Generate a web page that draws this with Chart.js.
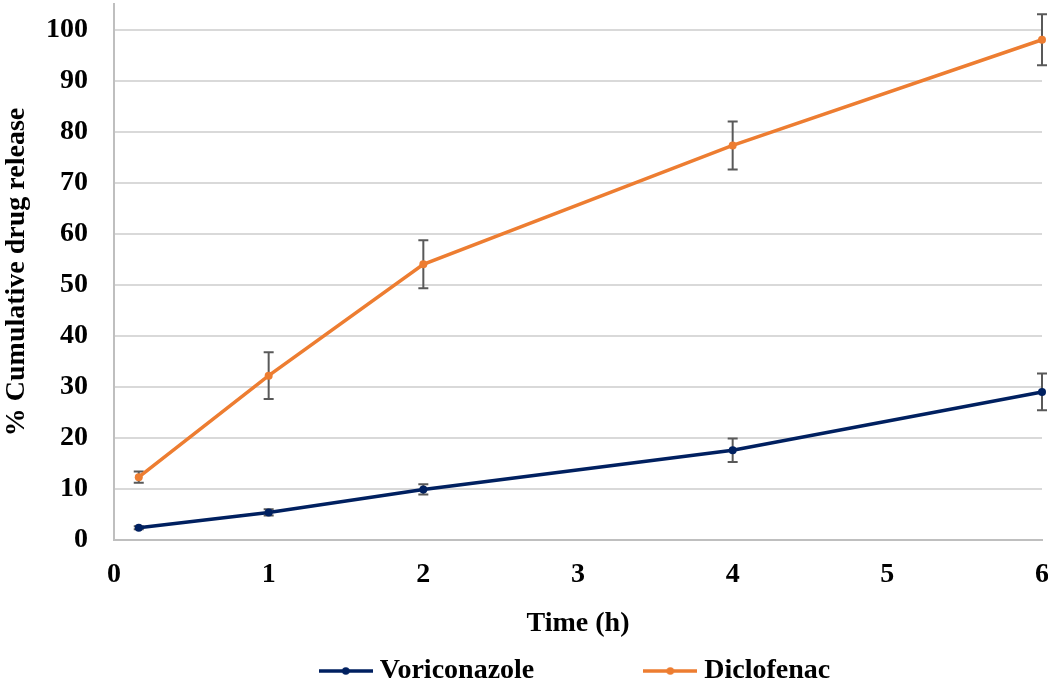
<!DOCTYPE html>
<html>
<head>
<meta charset="utf-8">
<script src="https://cdn.jsdelivr.net/npm/chart.js@4"></script>
<style>
  html, body { margin: 0; padding: 0; background: #ffffff; }
  #wrap { width: 1048px; height: 686px; position: relative; }
</style>
</head>
<body>
<div id="wrap"><canvas id="c"></canvas></div>
<script>
// ---- data ----
const times = [0.16, 1, 2, 4, 6];
const voriconazole = [2.4, 5.4, 9.9, 17.6, 29.0];
const voriconazoleErr = [0.3, 0.6, 1.0, 2.3, 3.6];
const diclofenac = [12.3, 32.2, 54.0, 77.3, 98.0];
const diclofenacErr = [1.1, 4.6, 4.7, 4.7, 5.0];
const seriesNames = ['Voriconazole', 'Diclofenac'];
const yTicks = [0, 10, 20, 30, 40, 50, 60, 70, 80, 90, 100];
const xTicks = [0, 1, 2, 3, 4, 5, 6];

const NAVY = '#002060';
const ORANGE = '#ED7D31';
const FONT = '"Liberation Serif", "Times New Roman", serif';

function toPoints(xs, ys) { return xs.map((x, i) => ({ x: x, y: ys[i] })); }

function legendIcon(color) {
  const cv = document.createElement('canvas');
  cv.width = 54; cv.height = 12;
  const g = cv.getContext('2d');
  g.strokeStyle = color; g.lineWidth = 3.5;
  g.beginPath(); g.moveTo(0, 6); g.lineTo(54, 6); g.stroke();
  g.fillStyle = color;
  g.beginPath(); g.arc(27, 6, 3.8, 0, Math.PI * 2); g.fill();
  return cv;
}

const errorBars = {
  id: 'errorBars',
  beforeDatasetsDraw(chart) {
    const ctx = chart.ctx;
    const ys = chart.scales.y;
    ctx.save();
    ctx.strokeStyle = '#595959';
    ctx.lineWidth = 2;
    chart.data.datasets.forEach((ds, di) => {
      const meta = chart.getDatasetMeta(di);
      if (!ds.errors) return;
      meta.data.forEach((pt, i) => {
        const v = ds.data[i].y, e = ds.errors[i];
        const top = ys.getPixelForValue(v + e);
        const bot = ys.getPixelForValue(v - e);
        const x = pt.x, cap = 5;
        ctx.beginPath();
        ctx.moveTo(x, top); ctx.lineTo(x, bot);
        ctx.moveTo(x - cap, top); ctx.lineTo(x + cap, top);
        ctx.moveTo(x - cap, bot); ctx.lineTo(x + cap, bot);
        ctx.stroke();
      });
    });
    ctx.restore();
  }
};

const trail = '\u00a0'.repeat(15);

new Chart(document.getElementById('c'), {
  type: 'line',
  data: {
    datasets: [
      { label: seriesNames[0], data: toPoints(times, voriconazole), errors: voriconazoleErr,
        borderColor: NAVY, backgroundColor: NAVY, borderWidth: 3.5, pointRadius: 4,
        pointBorderWidth: 0, tension: 0, clip: false },
      { label: seriesNames[1], data: toPoints(times, diclofenac), errors: diclofenacErr,
        borderColor: ORANGE, backgroundColor: ORANGE, borderWidth: 3.5, pointRadius: 4,
        pointBorderWidth: 0, tension: 0, clip: false }
    ]
  },
  options: {
    responsive: true,
    maintainAspectRatio: false,
    animation: false,
    layout: { padding: { left: 0, right: 6, top: 3, bottom: -9 } },
    plugins: {
      tooltip: { enabled: false },
      legend: {
        position: 'bottom',
        fullSize: false,
        labels: {
          usePointStyle: true,
          pointStyleWidth: 40,
          padding: 11,
          color: '#000',
          font: { family: FONT, size: 28, weight: 'bold' },
          generateLabels(chart) {
            return chart.data.datasets.map((ds, i) => ({
              text: i === 0 ? ds.label + trail : ds.label,
              pointStyle: legendIcon(ds.borderColor),
              fillStyle: ds.borderColor,
              strokeStyle: ds.borderColor,
              lineWidth: 0,
              hidden: false,
              datasetIndex: i,
              fontColor: '#000'
            }));
          }
        }
      }
    },
    scales: {
      x: {
        type: 'linear',
        min: xTicks[0], max: xTicks[xTicks.length - 1],
        afterBuildTicks(scale) { scale.ticks = xTicks.map(v => ({ value: v })); },
        afterFit(scale) { scale.height = 106; scale.paddingLeft = 0; scale.paddingRight = 0; },
        ticks: { color: '#000', padding: 18,
                 font: { family: FONT, size: 28, weight: 'bold' } },
        grid: { display: false, drawTicks: false },
        border: { display: true, color: '#BFBFBF', width: 2 },
        title: { display: true, text: 'Time (h)', color: '#000',
                 font: { family: FONT, size: 28, weight: 'bold' },
                 padding: { top: 0, bottom: 5 } }
      },
      y: {
        min: 0, max: 105,
        afterBuildTicks(scale) { scale.ticks = yTicks.map(v => ({ value: v })); },
        afterFit(scale) { scale.width = 114; scale.paddingTop = 0; scale.paddingBottom = 0; },
        ticks: { color: '#000', padding: 26,
                 font: { family: FONT, size: 28, weight: 'bold' } },
        grid: { color: '#D9D9D9', lineWidth: 2, drawTicks: false },
        border: { display: true, color: '#BFBFBF', width: 2 },
        title: { display: true, text: '% Cumulative drug release', color: '#000',
                 font: { family: FONT, size: 28, weight: 'bold' },
                 padding: { top: 0, bottom: 0 } }
      }
    }
  },
  plugins: [errorBars]
});
</script>
</body>
</html>
